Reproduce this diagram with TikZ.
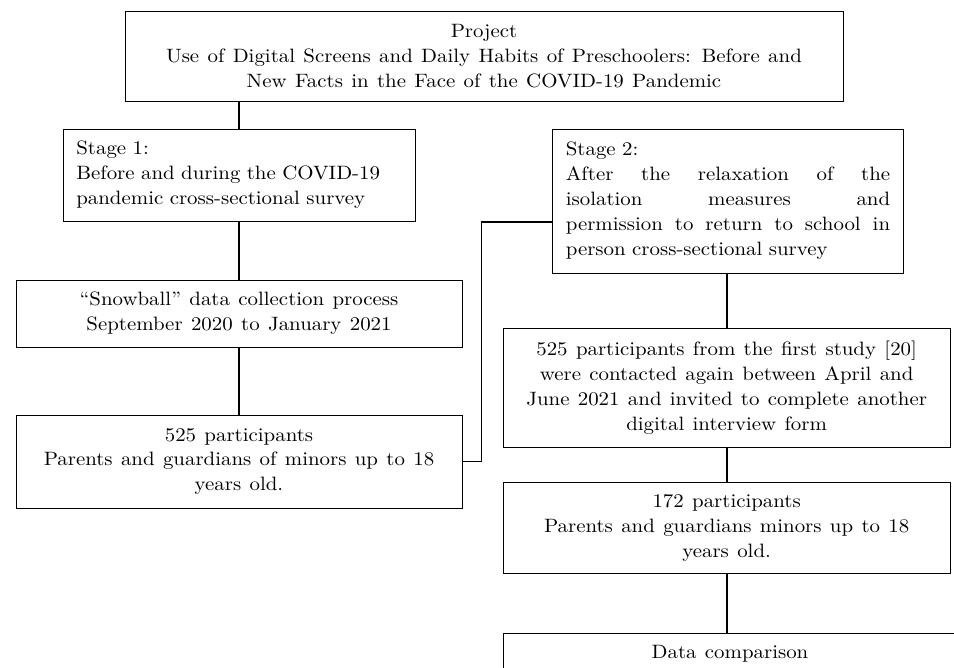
\documentclass[tikz,border=0pt]{standalone}
\usepackage{fontspec}
\setmainfont{lmroman10-regular.otf}[FakeStretch=1.08, WordSpace=1.2]
\usepackage{tikz}
\usetikzlibrary{positioning}

\begin{document}
\begin{tikzpicture}

            \tikzstyle{box} = [draw, line width=0.8pt, inner sep=0pt, align=center, font=\fontsize{16.5}{21.3}\selectfont];
            \tikzstyle{stageBox} = [box, align=left, inner xsep=0.4cm];
            \tikzstyle{link} = [line width=1.5pt];

            \clip (0,0) rectangle (28.62,-20.04);

            \node[box, minimum width=21.54cm, minimum height=2.7cm] (proj) at (14.52,-1.68)
              {Project\\Use of Digital Screens and Daily Habits of Preschoolers: Before and\\New Facts in the Face of the COVID-19 Pandemic};

            % stage 1
            \node[stageBox, text width=9.76cm, minimum height=2.76cm] (s1) at (7.17,-5.25)
              {Stage 1:\\Before and during the \mbox{COVID-19}\\pandemic cross-sectional survey};
            \node[box, minimum width=13.38cm, minimum height=2.01cm] (snow) at (7.17,-9.405)
              {``Snowball'' data collection process\\September 2020 to January 2021};
            \node[box, minimum width=13.38cm, minimum height=2.79cm] (p1) at (7.17,-13.845)
              {525 participants\\Parents and guardians of minors up to 18\\years old.};

            % stage 2
            \node[stageBox, text width=9.73cm, minimum height=4.32cm] (s2) at (21.84,-6.03)
              {Stage 2:\\After\hfill the\hfill relaxation\hfill of\hfill the\\isolation\hfill measures\hfill and\\permission\hfill to\hfill return\hfill to\hfill school\hfill in\\person cross-sectional survey};
            \node[box, minimum width=13.41cm, minimum height=3.57cm] (ct) at (21.8,-11.625)
              {525 participants from the first study [20]\\were contacted again between April and\\June 2021 and invited to complete another\\digital interview form};
            \node[box, minimum width=13.41cm, minimum height=2.73cm] (p2) at (21.8,-15.825)
              {172 participants\\Parents and guardians minors up to 18\\years old.};
            \node[box, minimum width=13.71cm, minimum height=1.8cm, anchor=north] (cmp) at (21.95,-18.99)
              {};
            \node[font=\fontsize{16.5}{21.3}\selectfont] (cmpText) at (21.9,-19.62) {Data comparison};

            \draw[link] (s1.north) -- (s1.north |- proj.south);
            \draw[link] (s1) -- (snow);
            \draw[link] (snow) -- (p1);
            \draw[line width=1pt] (p1.east) -- ++(0.57,0) |- ([yshift=-0.63cm]s2.west);
            \draw[link] (s2.south -| ct.north) -- (ct.north);
            \draw[link] (ct) -- (p2);
            \draw[link] (p2.south) -- (p2.south |- cmp.north);
          \end{tikzpicture}
\end{document}
